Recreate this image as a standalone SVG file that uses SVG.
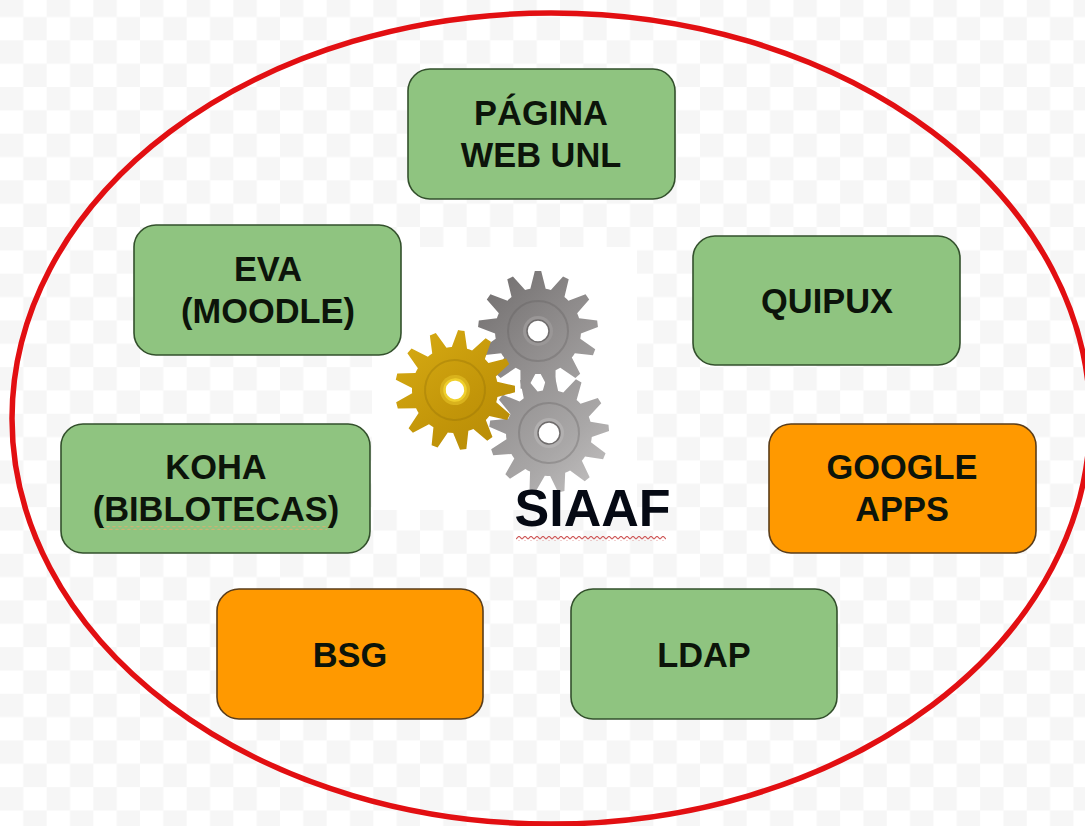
<svg xmlns="http://www.w3.org/2000/svg" width="1085" height="826" viewBox="0 0 1085 826">
<style>
.box{stroke:#33502c;stroke-width:1.6}
.green{fill:#8fc480}
.orange{fill:#ff9900;stroke:#5a3d1a}
.lbl{font-family:"Liberation Sans",Arial,sans-serif;font-weight:700;font-size:34.4px;fill:#0c140a;text-anchor:middle}
.title{font-family:"Liberation Sans",Arial,sans-serif;font-weight:700;font-size:52px;fill:#060a14;text-anchor:middle}
.ring{fill:none;stroke-opacity:.3;stroke-width:2}
</style>
<defs>
<pattern id="check" width="46.67" height="46.67" patternUnits="userSpaceOnUse" y="-6.3">
<rect width="46.67" height="46.67" fill="#fff"/>
<rect width="23.33" height="23.33" fill="#f6f6f6"/>
<rect x="23.33" y="23.33" width="23.33" height="23.33" fill="#f6f6f6"/>
</pattern>
<pattern id="squigRed" width="6" height="5" patternUnits="userSpaceOnUse">
<path d="M0 4L3 1L6 4" fill="none" stroke="#cf5a5a" stroke-width="1.1"/>
</pattern>
<pattern id="squigPale" width="6" height="4" patternUnits="userSpaceOnUse">
<path d="M0 3L3 1L6 3" fill="none" stroke="#d8b070" stroke-width="1"/>
</pattern>
<linearGradient id="g1" x1="0" y1="0" x2="1" y2="1"><stop offset="0" stop-color="#6e6b6b"/><stop offset=".55" stop-color="#8f8c8c"/><stop offset="1" stop-color="#a8a6a6"/></linearGradient>
<linearGradient id="g2" x1="0" y1="0" x2="1" y2="1"><stop offset="0" stop-color="#8b8888"/><stop offset=".6" stop-color="#a9a7a7"/><stop offset="1" stop-color="#c6c4c4"/></linearGradient>
<linearGradient id="g3" x1="0" y1="0" x2="1" y2="1"><stop offset="0" stop-color="#d9ad14"/><stop offset=".6" stop-color="#c29509"/><stop offset="1" stop-color="#b58a06"/></linearGradient>
<polygon id="tooth" points="-8,-41 -3.2,-60 3.2,-60 8,-41"/>
<clipPath id="gearShape">
<circle r="43"/>
<use href="#tooth"/>
<use href="#tooth" transform="rotate(27.69)"/>
<use href="#tooth" transform="rotate(55.38)"/>
<use href="#tooth" transform="rotate(83.08)"/>
<use href="#tooth" transform="rotate(110.77)"/>
<use href="#tooth" transform="rotate(138.46)"/>
<use href="#tooth" transform="rotate(166.15)"/>
<use href="#tooth" transform="rotate(193.85)"/>
<use href="#tooth" transform="rotate(221.54)"/>
<use href="#tooth" transform="rotate(249.23)"/>
<use href="#tooth" transform="rotate(276.92)"/>
<use href="#tooth" transform="rotate(304.62)"/>
<use href="#tooth" transform="rotate(332.31)"/>
</clipPath>
</defs>
<rect id="background" width="1085" height="826" fill="url(#check)"/>
<rect id="gear-backdrop" x="372" y="247" width="265" height="263" fill="#fff"/>
<ellipse id="boundary" cx="551" cy="418.5" rx="539" ry="405.5" fill="none" stroke="#e20f12" stroke-width="5.5"/>
<g id="gears">
<g id="gear-top" transform="translate(538,331)">
<rect x="-62" y="-62" width="124" height="124" fill="url(#g1)" clip-path="url(#gearShape)"/>
<circle r="30" class="ring" stroke="#5d5a5a"/>
<circle r="15" fill="#9a9797"/>
<circle r="11" fill="#fff" stroke="#6f6c6c" stroke-width="1.5"/>
</g>
<g id="gear-right" transform="translate(549,433) rotate(2)">
<rect x="-62" y="-62" width="124" height="124" fill="url(#g2)" clip-path="url(#gearShape)"/>
<circle r="30" class="ring" stroke="#5d5a5a"/>
<circle r="15" fill="#b2b0b0"/>
<circle r="11" fill="#fff" stroke="#6f6c6c" stroke-width="1.5"/>
</g>
<g id="gear-gold" transform="translate(455,390) rotate(6)">
<rect x="-62" y="-62" width="124" height="124" fill="url(#g3)" clip-path="url(#gearShape)"/>
<circle r="30" class="ring" stroke="#8a6a05"/>
<circle r="15" fill="#d9b21c"/>
<circle r="10.5" fill="#fff" stroke="#efcf2c" stroke-width="2.5"/>
</g>
</g>
<g id="node-siaaf">
<text class="title" x="592.5" y="526">SIAAF</text>
<rect x="516" y="536" width="150" height="5" fill="url(#squigRed)"/>
</g>
<g id="node-web">
<rect class="box green" x="408" y="69" width="267" height="130" rx="22"/>
<text class="lbl" x="541" y="125">PÁGINA</text><text class="lbl" x="541" y="167">WEB UNL</text>
</g>
<g id="node-eva">
<rect class="box green" x="134" y="225" width="267" height="130" rx="22"/>
<text class="lbl" x="268" y="281">EVA</text><text class="lbl" x="268" y="323">(MOODLE)</text>
</g>
<g id="node-quipux">
<rect class="box green" x="693" y="236" width="267" height="129" rx="22"/>
<text class="lbl" x="827" y="313">QUIPUX</text>
</g>
<g id="node-koha">
<rect class="box green" x="61" y="424" width="309" height="129" rx="22"/>
<text class="lbl" x="216" y="479">KOHA</text><text class="lbl" x="216" y="521">(BIBLOTECAS)</text>
<rect x="103" y="526" width="224" height="4" fill="url(#squigPale)"/>
</g>
<g id="node-google">
<rect class="box orange" x="769" y="424" width="267" height="129" rx="22"/>
<text class="lbl" x="902" y="479">GOOGLE</text><text class="lbl" x="902" y="521">APPS</text>
</g>
<g id="node-bsg">
<rect class="box orange" x="217" y="589" width="266" height="130" rx="22"/>
<text class="lbl" x="350" y="667">BSG</text>
</g>
<g id="node-ldap">
<rect class="box green" x="571" y="589" width="266" height="130" rx="22"/>
<text class="lbl" x="704" y="667">LDAP</text>
</g>
</svg>
